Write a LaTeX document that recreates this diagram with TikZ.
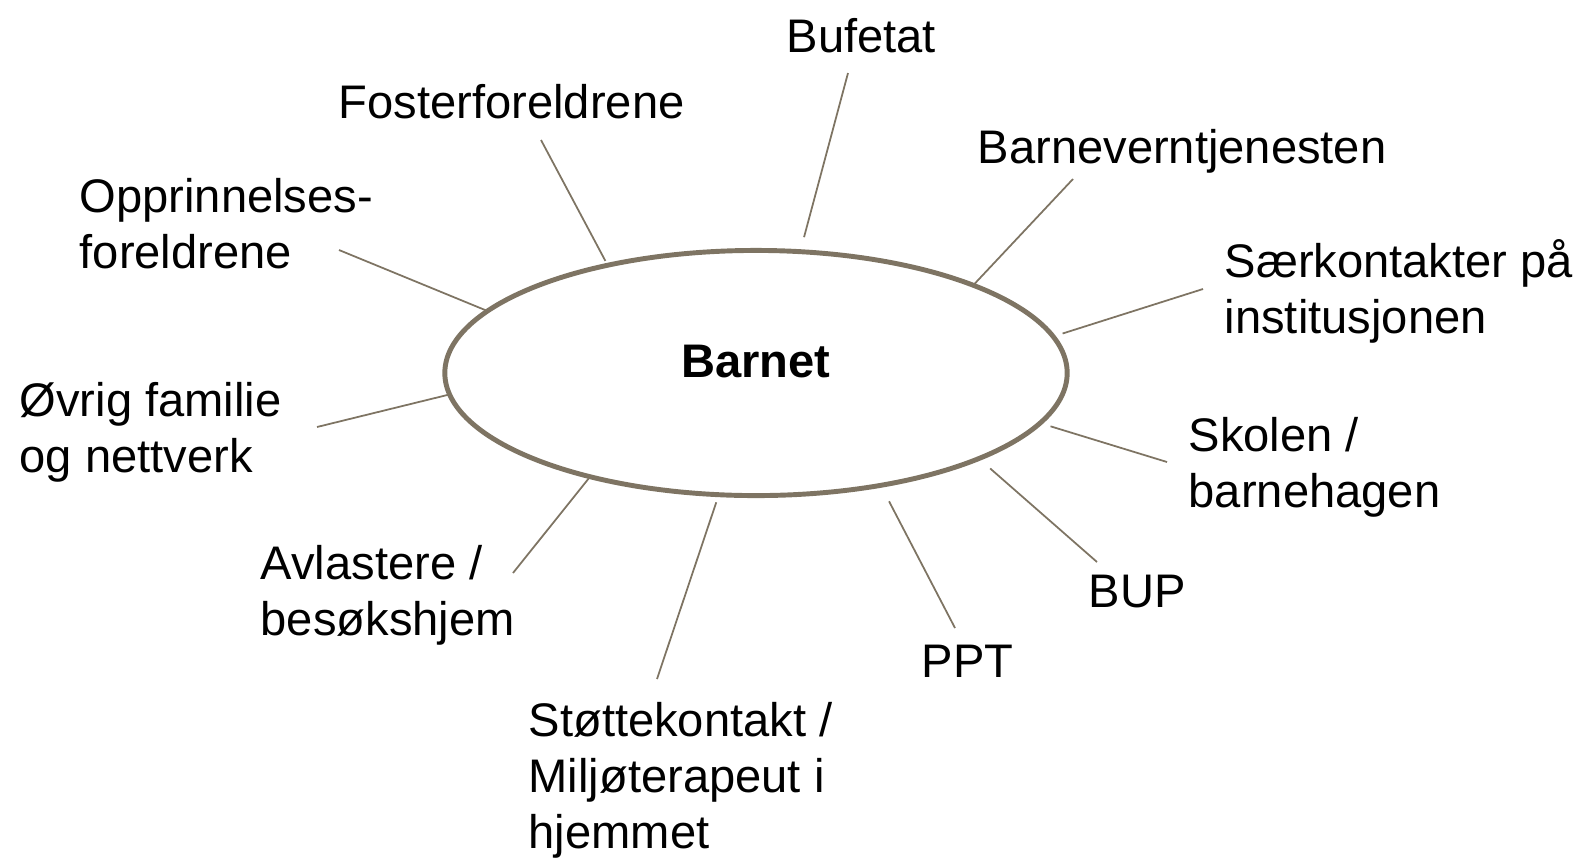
\documentclass[tikz,border=0pt]{standalone}
\usepackage{fontspec}
\setmainfont{Liberation Sans}
\usetikzlibrary{shapes.geometric}
\definecolor{ringbrown}{RGB}{126,116,99}

\begin{document}
\begin{tikzpicture}[x=0.01cm,y=-0.01cm,
    lbl/.style={anchor=base west,inner sep=0pt,align=left,font=\fontsize{13.4}{15.9}\selectfont},
    link/.style={draw=ringbrown,line width=0.5pt}]
  \useasboundingbox (0,0) rectangle (1582,866);

  % midten
  \node[draw=ringbrown,line width=1.4pt,ellipse,minimum width=6.22cm,minimum height=2.45cm,
        inner sep=0pt,outer sep=0pt,text depth=0.24cm,
        font=\fontsize{13.4}{15.9}\selectfont\bfseries] (barnet) at (756,373) {Barnet};

  % aktorene rundt (flerlinjet: grunnlinje for siste linje)
  \node[lbl] (bufetat)  at (786,52)   {Bufetat};
  \node[lbl] (foster)   at (338,118)  {Fosterforeldrene};
  \node[lbl] (barnevern) at (977,163) {Barneverntjenesten};
  \node[lbl] (opprinn)  at (79,268)   {Opprinnelses-\\foreldrene};
  \node[lbl] (saerk)    at (1224,333) {Særkontakter på\\institusjonen};
  \node[lbl] (ovrig)    at (19,472)   {Øvrig familie\\og nettverk};
  \node[lbl] (skolen)   at (1188,507) {Skolen /\\barnehagen};
  \node[lbl] (avlast)   at (260,635)  {Avlastere /\\besøkshjem};
  \node[lbl] (bup)      at (1088,607) {BUP};
  \node[lbl] (ppt)      at (921,677)  {PPT};
  \node[lbl] (stotte)   at (528,848)  {Støttekontakt /\\Miljøterapeut i\\hjemmet};

  % frie ender ved tekstene
  \coordinate (e-bufetat)   at (848,73);
  \coordinate (e-barnevern) at (1073,179);
  \coordinate (e-saerk)     at (1203,289);
  \coordinate (e-skolen)    at (1167,462);
  \coordinate (e-bup)       at (1097,562);
  \coordinate (e-ppt)       at (955,628);
  \coordinate (e-stotte)    at (657,679);
  \coordinate (e-avlast)    at (513,573);
  \coordinate (e-ovrig)     at (317,427);
  \coordinate (e-opprinn)   at (339,250);
  \coordinate (e-foster)    at (541,140);

  \draw[link,shorten <=0.15cm] (barnet.70.2)  -- (e-bufetat);
  \draw[link]                  (barnet.22.6)  -- (e-barnevern);
  \draw[link,shorten <=0.1cm]  (barnet.7.2)   -- (e-saerk);
  \draw[link,shorten <=0.11cm] (barnet.-10.3) -- (e-skolen);
  \draw[link,shorten <=0.15cm] (barnet.-21.3) -- (e-bup);
  \draw[link,shorten <=0.18cm] (barnet.-42.6) -- (e-ppt);
  \draw[link,shorten <=0.08cm] (barnet.-107.3) -- (e-stotte);
  \draw[link,shorten <=0.02cm] (barnet.212.8) -- (e-avlast);
  \draw[link]                  (barnet.184.2) -- (e-ovrig);
  \draw[link]                  (barnet.167.6) -- (e-opprinn);
  \draw[link,shorten <=0.05cm] (barnet.144) -- (e-foster);
\end{tikzpicture}
\end{document}
